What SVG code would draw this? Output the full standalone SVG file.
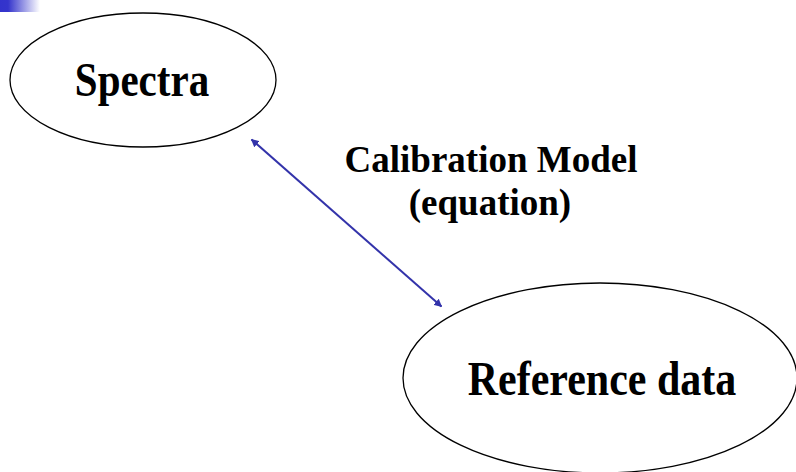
<svg xmlns="http://www.w3.org/2000/svg" width="796" height="472" viewBox="0 0 796 472">
  <defs>
    <linearGradient id="bar" x1="0" y1="0" x2="1" y2="0">
      <stop offset="0" stop-color="#3333cc"/>
      <stop offset="0.2" stop-color="#3535cc"/>
      <stop offset="1" stop-color="#ffffff"/>
    </linearGradient>
    <marker id="ah" viewBox="0 0 10 10" refX="9" refY="5" markerWidth="4" markerHeight="4" orient="auto-start-reverse" markerUnits="strokeWidth">
      <path d="M0,0 L10,5 L0,10 z" fill="#3333aa"/>
    </marker>
    <style>
      .node { fill: #ffffff; stroke: #000000; stroke-width: 1.3; }
      .lbl { font-family: "Liberation Serif", "Times New Roman", serif; font-weight: bold; fill: #000000; text-anchor: middle; }
      .conn { stroke: #3333aa; stroke-width: 2; fill: none; }
    </style>
  </defs>
  <rect x="0" y="0" width="796" height="472" fill="#ffffff"/>
  <rect x="0" y="0" width="40" height="12" fill="url(#bar)"/>

  <g id="node-spectra">
    <ellipse class="node" cx="143" cy="80" rx="133" ry="67"/>
    <text class="lbl" transform="translate(142,96) scale(1,1.17)" font-size="41">Spectra</text>
  </g>

  <g id="node-reference">
    <ellipse class="node" cx="600" cy="378" rx="197" ry="95"/>
    <text class="lbl" transform="translate(602,395) scale(1,1.17)" font-size="42">Reference data</text>
  </g>

  <g id="connectors">
    <line class="conn" x1="251.5" y1="139.5" x2="441.5" y2="306.5" marker-start="url(#ah)" marker-end="url(#ah)"/>
  </g>

  <g id="label-calibration">
    <text class="lbl" x="491" y="172" font-size="37">Calibration Model</text>
    <text class="lbl" x="490" y="215" font-size="37">(equation)</text>
  </g>
</svg>
